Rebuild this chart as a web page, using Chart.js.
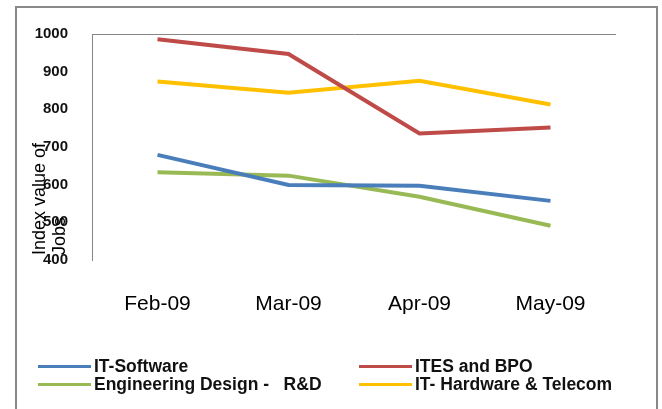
<!DOCTYPE html>
<html>
<head>
<meta charset="utf-8">
<script src="https://cdn.jsdelivr.net/npm/chart.js@4"></script>
<style>
  body { margin:0; background:#fff; }
  #wrap { position:relative; width:662px; height:409px; overflow:hidden; }
  #frame { position:absolute; left:15px; top:6px; width:643px; height:420px; border:2px solid #898989; box-sizing:border-box; }
  #legend { position:absolute; left:38px; top:357px; font:bold 17.5px "Liberation Sans", Arial, sans-serif; color:#111; }
  .item { position:absolute; white-space:pre; display:flex; align-items:center; height:18px; }
  .item span.ln { display:inline-block; width:53px; height:3px; margin-right:3px; }
</style>
</head>
<body>
<div id="wrap">
  <div id="frame"></div>
  <canvas id="chart" width="662" height="409"></canvas>
  <div id="legend"></div>
</div>
<script>
// --- データ ---
const months = ["Feb-09", "Mar-09", "Apr-09", "May-09"];
const itSoftware = [679, 599, 597, 557];
const itesBpo = [986, 947, 736, 752];
const engDesign = [633, 624, 568, 491];
const itHardware = [874, 844, 876, 813];
const seriesNames = ["IT-Software", "ITES and BPO", "Engineering Design -   R&D", "IT- Hardware & Telecom"];
const seriesColors = ["#4A7EBB", "#BE4B48", "#98B954", "#FFC000"];
const yTicks = [400, 500, 600, 700, 800, 900, 1000];
const yTitle = ["Index value of", "Jobs"];

const allSeries = [itSoftware, itesBpo, engDesign, itHardware];
const datasets = allSeries.map((d, i) => ({
  label: seriesNames[i],
  data: d,
  borderColor: seriesColors[i],
  backgroundColor: seriesColors[i],
  borderWidth: 4,
  pointRadius: 0,
  tension: 0,
  fill: false
}));

// y軸タイトル（2行、下揃え）
const yTitlePlugin = {
  id: "yTitle",
  afterDraw(chart) {
    const ctx = chart.ctx;
    ctx.save();
    ctx.font = "18px 'Liberation Sans', Arial, sans-serif";
    ctx.fillStyle = "#000";
    ctx.textAlign = "left";
    ctx.textBaseline = "alphabetic";
    ctx.translate(45, 255);
    ctx.rotate(-Math.PI / 2);
    yTitle.forEach((t, i) => ctx.fillText(t, 0, i * 20));
    ctx.restore();
  }
};

new Chart(document.getElementById("chart"), {
  type: "line",
  data: { labels: months, datasets },
  options: {
    responsive: false,
    animation: false,
    layout: { padding: { top: 34, right: 46, left: 0, bottom: 0 } },
    plugins: { legend: { display: false }, tooltip: { enabled: false } },
    scales: {
      x: {
        offset: true,
        grid: { display: false, offset: true },
        border: { display: false },
        ticks: { color: "#000", padding: 24, font: { family: "'Liberation Sans', Arial, sans-serif", size: 21 } },
        afterFit(s) { s.height = 149; }
      },
      y: {
        min: 400, max: 1000,
        afterBuildTicks(s) { s.ticks = yTicks.map(v => ({ value: v })); },
        grid: {
          drawTicks: false,
          color: c => (c.tick && c.tick.value === 1000 ? "#868686" : "rgba(0,0,0,0)"),
          lineWidth: 1
        },
        border: { display: true, color: "#868686", width: 1 },
        ticks: {
          color: "#111", padding: 24,
          font: { family: "'Liberation Sans', Arial, sans-serif", size: 15, weight: "bold" },
          callback: v => String(v)
        },
        afterFit(s) { s.width = 92; }
      }
    }
  },
  plugins: [yTitlePlugin]
});

// 凡例（2列）
const legend = document.getElementById("legend");
const colX = [0, 321];
datasets.forEach((ds, i) => {
  const el = document.createElement("div");
  el.className = "item";
  el.style.left = colX[i % 2] + "px";
  el.style.top = Math.floor(i / 2) * 18 + "px";
  el.innerHTML = `<span class="ln" style="background:${ds.borderColor}"></span>${ds.label}`;
  legend.appendChild(el);
});
</script>
</body>
</html>
